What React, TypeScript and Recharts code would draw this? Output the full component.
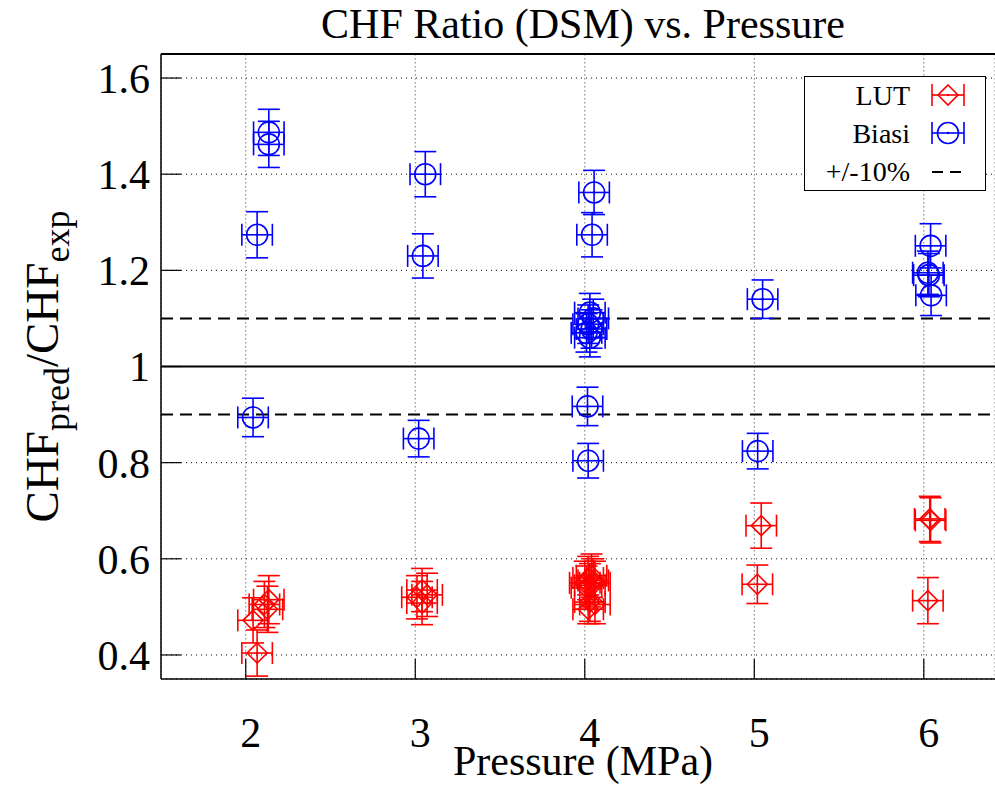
import React from "react";
import {
  ScatterChart,
  Scatter,
  XAxis,
  YAxis,
  CartesianGrid,
  ErrorBar,
  ReferenceLine,
  Legend,
  Customized,
} from "recharts";

const FONT = "Liberation Serif, Times New Roman, DejaVu Serif, serif";
const RED = "#ff0000";
const BLUE = "#0000ff";

const pressureTicks = [2, 3, 4, 5, 6];
const ratioTicks = [0.4, 0.6, 0.8, 1, 1.2, 1.4, 1.6];

// pressure uncertainty (MPa), same for every point
const PRESSURE_ERR = 0.09;

// LUT
const lutPressure = [
  2.067, 2.043, 2.136, 2.128, 2.11,
  3.04, 3.01, 3.04, 3.07,
  4.02, 4.05, 4.0, 4.03, 4.06, 4.01, 4.04, 4.03, 4.02, 4.06,
  5.041, 5.018,
  6.04, 6.035, 6.024,
];
const lutRatio = [
  0.404, 0.472, 0.515, 0.495, 0.505,
  0.535, 0.52, 0.508, 0.525,
  0.56, 0.555, 0.55, 0.545, 0.55, 0.54, 0.565, 0.51, 0.495, 0.505,
  0.669, 0.547,
  0.68, 0.683, 0.513,
];
const lutErr = [
  0.048, 0.047, 0.05, 0.048, 0.048,
  0.045, 0.045, 0.045, 0.045,
  0.045, 0.045, 0.045, 0.045, 0.045, 0.045, 0.045, 0.04, 0.03, 0.04,
  0.047, 0.04,
  0.047, 0.047, 0.048,
];

// Biasi
const biasiPressure = [
  2.136, 2.136, 2.067, 2.043,
  3.059, 3.045, 3.02,
  4.055, 4.043, 4.016, 4.02, 4.03, 4.05, 4.02, 4.04, 4.01, 4.03,
  5.049, 5.02,
  6.04, 6.024, 6.03, 6.043,
];
const biasiRatio = [
  1.487, 1.462, 1.274, 0.894,
  1.4, 1.23, 0.85,
  1.362, 1.274, 0.917, 0.804, 1.112, 1.1, 1.088, 1.078, 1.07, 1.06,
  1.14, 0.824,
  1.251, 1.195, 1.19, 1.148,
];
const biasiErr = [
  0.048, 0.048, 0.048, 0.04,
  0.047, 0.046, 0.038,
  0.046, 0.046, 0.04, 0.036, 0.04, 0.04, 0.04, 0.04, 0.04, 0.04,
  0.04, 0.037,
  0.046, 0.045, 0.045, 0.042,
];

function buildPoints(p: number[], r: number[], e: number[]) {
  return p.map((x, i) => ({ p: x, r: r[i], ex: PRESSURE_ERR, ey: e[i] }));
}

const lutData = buildPoints(lutPressure, lutRatio, lutErr);
const biasiData = buildPoints(biasiPressure, biasiRatio, biasiErr);

function DiamondMark(props: any) {
  const { cx, cy } = props;
  const s = 10;
  return (
    <g>
      <path
        d={`M${cx},${cy - s}L${cx + s},${cy}L${cx},${cy + s}L${cx - s},${cy}Z`}
        fill="none"
        stroke={RED}
        strokeWidth={1.6}
      />
      <circle cx={cx} cy={cy} r={1.2} fill={RED} />
    </g>
  );
}

function CircleMark(props: any) {
  const { cx, cy } = props;
  return (
    <g>
      <circle cx={cx} cy={cy} r={10.5} fill="none" stroke={BLUE} strokeWidth={1.6} />
      <circle cx={cx} cy={cy} r={1.2} fill={BLUE} />
    </g>
  );
}

function SampleBars({ x, y, color }: { x: number; y: number; color: string }) {
  return (
    <g stroke={color} strokeWidth={1.6}>
      <line x1={x - 16} y1={y} x2={x + 16} y2={y} />
      <line x1={x - 16} y1={y - 11} x2={x - 16} y2={y + 11} />
      <line x1={x + 16} y1={y - 11} x2={x + 16} y2={y + 11} />
    </g>
  );
}

function LegendBox() {
  return (
    <div
      style={{
        width: 180,
        height: 113,
        border: "1.5px solid #000",
        background: "#fff",
      }}
    >
      <svg width={180} height={113} style={{ display: "block" }}>
        <g style={{ fontFamily: FONT }} fontSize={28} fill="#000" textAnchor="end">
          <text x={105} y={28}>LUT</text>
          <text x={105} y={66}>Biasi</text>
          <text x={105} y={104}>+/-10%</text>
        </g>
        <SampleBars x={143} y={18} color={RED} />
        <DiamondMark cx={143} cy={18} />
        <SampleBars x={143} y={56} color={BLUE} />
        <CircleMark cx={143} cy={56} />
        <line
          x1={127}
          y1={95}
          x2={156}
          y2={95}
          stroke="#000"
          strokeWidth={1.8}
          strokeDasharray="11 7"
        />
      </svg>
    </div>
  );
}

function Title() {
  return (
    <text
      x={583}
      y={38}
      textAnchor="middle"
      style={{ fontFamily: FONT }}
      fontSize={42}
      fill="#000"
    >
      CHF Ratio (DSM) vs. Pressure
    </text>
  );
}

function XLabel(props: any) {
  const { viewBox } = props;
  return (
    <text
      x={583}
      y={viewBox.y + 96}
      textAnchor="middle"
      style={{ fontFamily: FONT }}
      fontSize={42}
      fill="#000"
    >
      Pressure (MPa)
    </text>
  );
}

function YLabel(props: any) {
  const { viewBox } = props;
  const cy = viewBox.y + viewBox.height / 2;
  const cx = 58;
  return (
    <text
      x={cx}
      y={cy}
      transform={`rotate(-90, ${cx}, ${cy})`}
      textAnchor="middle"
      style={{ fontFamily: FONT }}
      fontSize={47}
      fill="#000"
    >
      CHF
      <tspan fontSize={36} dy={11}>pred</tspan>
      <tspan dy={-11}>/CHF</tspan>
      <tspan fontSize={36} dy={11}>exp</tspan>
    </text>
  );
}

const tickStyle = { fontSize: 42, fill: "#000", fontFamily: FONT, style: { fontFamily: FONT } };

export default function App() {
  return (
    <div
      style={{
        position: "absolute",
        left: 0,
        top: 0,
        width: 995,
        height: 791,
        background: "#fff",
        fontFamily: FONT,
      }}
    >
      <ScatterChart
        width={995}
        height={791}
        margin={{ top: 54, right: 0, bottom: 0, left: 0 }}
      >
        <CartesianGrid vertical={false} stroke="#000" strokeDasharray="1 4" />
        <CartesianGrid horizontal={false} stroke="#777" strokeDasharray="1.5 2.5" />
        <XAxis
          dataKey="p"
          type="number"
          domain={[1.5, 6.42]}
          ticks={pressureTicks}
          allowDataOverflow
          height={112}
          tickSize={-20}
          tickMargin={58}
          tick={{ ...tickStyle, dx: 5 }}
          axisLine={{ stroke: "#000", strokeWidth: 1.5 }}
          tickLine={{ stroke: "#000", strokeWidth: 1.2 }}
          label={{ content: XLabel }}
        />
        <YAxis
          dataKey="r"
          type="number"
          domain={[0.35, 1.65]}
          ticks={ratioTicks}
          allowDataOverflow
          width={161}
          tickSize={-20}
          tickMargin={31}
          tickFormatter={(v: number) => String(v)}
          tick={tickStyle}
          axisLine={{ stroke: "#000", strokeWidth: 1.5 }}
          tickLine={{ stroke: "#000", strokeWidth: 1.2 }}
          label={{ content: YLabel }}
        />
        <ReferenceLine y={1.65} stroke="#000" strokeWidth={2} />
        <ReferenceLine y={1} stroke="#000" strokeWidth={2} />
        <ReferenceLine y={1.1} stroke="#000" strokeWidth={2} strokeDasharray="12 7" />
        <ReferenceLine y={0.9} stroke="#000" strokeWidth={2} strokeDasharray="12 7" />
        <Legend
          layout="vertical"
          align="center"
          verticalAlign="middle"
          content={LegendBox}
          wrapperStyle={{ position: "absolute", left: 804, top: 76, width: 183, height: 116 }}
        />
        <Scatter name="LUT" data={lutData} shape={DiamondMark} isAnimationActive={false}>
          <ErrorBar dataKey="ex" direction="x" width={11} stroke={RED} strokeWidth={1.6} />
          <ErrorBar dataKey="ey" direction="y" width={11} stroke={RED} strokeWidth={1.6} />
        </Scatter>
        <Scatter name="Biasi" data={biasiData} shape={CircleMark} isAnimationActive={false}>
          <ErrorBar dataKey="ex" direction="x" width={11} stroke={BLUE} strokeWidth={1.6} />
          <ErrorBar dataKey="ey" direction="y" width={11} stroke={BLUE} strokeWidth={1.6} />
        </Scatter>
        <Customized component={Title} />
      </ScatterChart>
    </div>
  );
}
